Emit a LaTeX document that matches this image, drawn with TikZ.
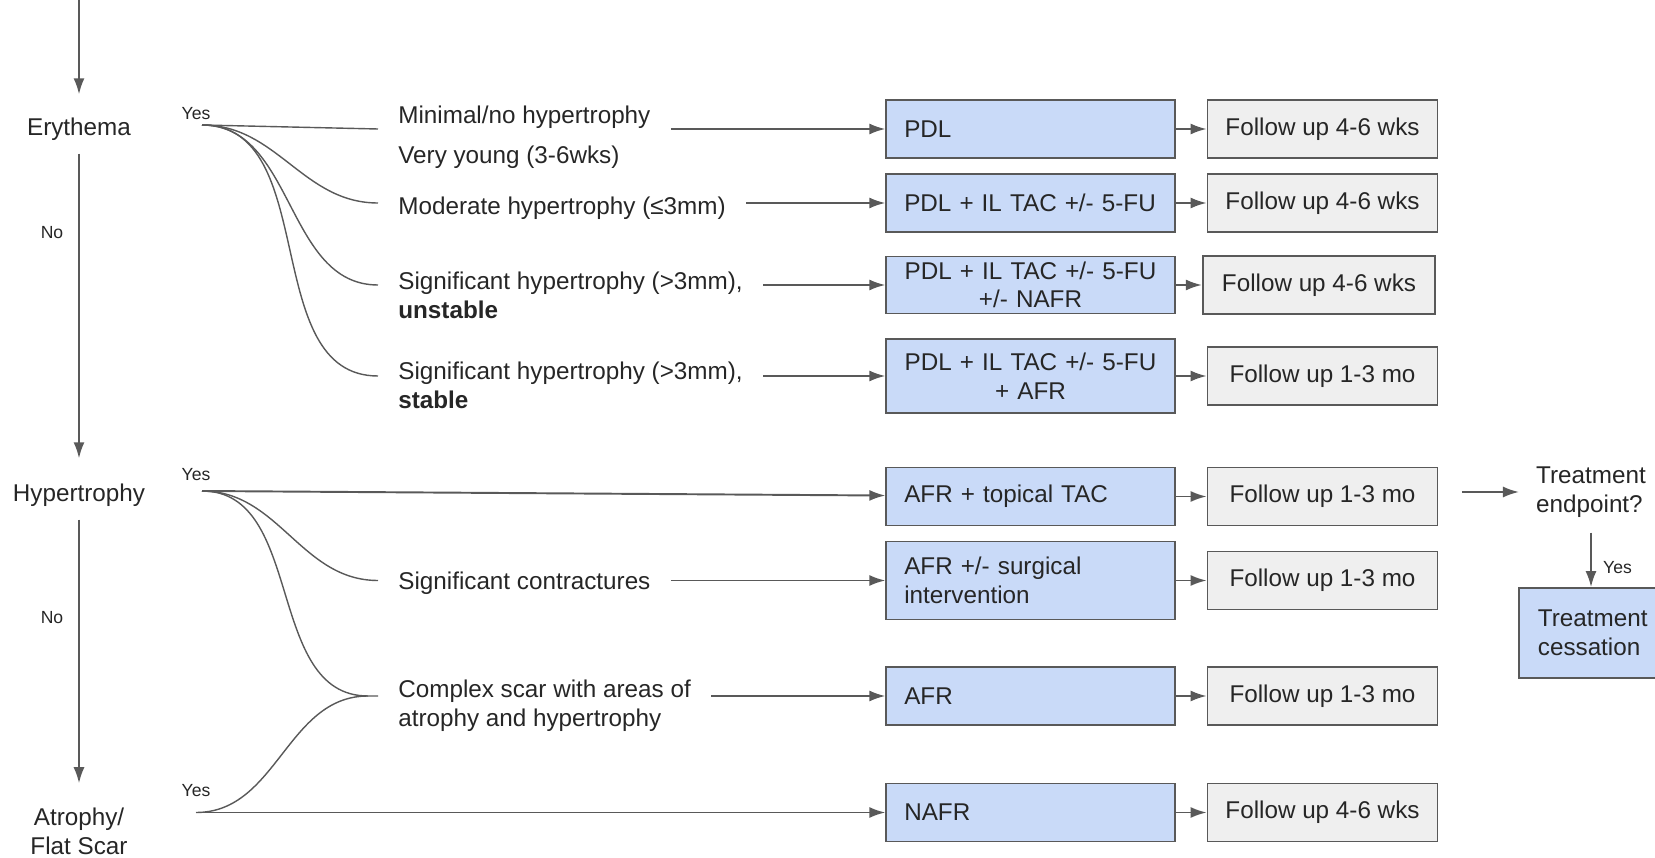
\documentclass[tikz,border=0pt]{standalone}
\usepackage{fontspec}
\setmainfont{Liberation Sans}
\usepackage{tikz}
\usetikzlibrary{arrows.meta}

\definecolor{linegray}{HTML}{595959}
\definecolor{textgray}{HTML}{262626}
\definecolor{boxblue}{HTML}{C9DAF8}
\definecolor{boxgray}{HTML}{EFEFEF}

\begin{document}
\begin{tikzpicture}[
    font=\fontsize{13.8pt}{16.5pt}\selectfont, text=textgray,
    arr/.style={-{Latex[length=0.32cm, width=0.22cm]}, linegray, line width=1.1pt},
    branch/.style={linegray, line width=0.8pt},
    stage/.style={inner sep=0.26cm, align=center},
    answer/.style={font=\fontsize{10pt}{12pt}\selectfont},
    option/.style={anchor=west, inner xsep=0.4cm, align=left},
    treat/.style={draw=linegray, line width=1pt, fill=boxblue, minimum width=5.77cm, minimum height=1.16cm, inner xsep=0.36cm},
    followup/.style={draw=linegray, line width=1pt, fill=boxgray, minimum width=4.6cm, minimum height=1.16cm}
  ]
  \useasboundingbox (0, 0) rectangle (33.1, 17.14);
  \clip (0, 0) rectangle (33.1, 17.14);

  % Stages
  \coordinate (top) at (1.58, 17.14);
  \node [stage] (ery) at (1.58, 14.56) {Erythema};
  \node [stage] (hyp) at (1.58, 7.24) {Hypertrophy};
  \node [stage] (atr) at (1.58, 0.52) {Atrophy/\\Flat Scar};
  \draw [arr, shorten >=0.2cm] (top) -- (ery);
  \draw [arr, shorten >=0.24cm] (ery) -- (hyp);
  \draw [arr, shorten >=0.22cm] (hyp) -- (atr);
  \node [answer] (no1) at (1.04, 12.48) {No};
  \node [answer] (no2) at (1.04, 4.78) {No};

  % Yes branches
  \node [answer] (yes1) at (3.92, 14.86) {Yes};
  \node [answer] (yes2) at (3.92, 7.64) {Yes};
  \node [answer] (yes3) at (3.92, 1.32) {Yes};
  \coordinate (ery-yes) at (4.04, 14.64);
  \coordinate (hyp-yes) at (4.04, 7.32);
  \coordinate (atr-yes) at (3.92, 0.89);

  % Findings
  \node [option] (minimal) at (7.56, 14.39) {Minimal/no hypertrophy\\[0.22cm]Very young (3-6wks)};
  \node [option] (moderate) at (7.56, 12.97) {Moderate hypertrophy (≤3mm)};
  \node [option] (unstable) at (7.56, 11.225) {Significant hypertrophy (>3mm),\\\textbf{unstable}};
  \node [option] (stable) at (7.56, 9.426) {Significant hypertrophy (>3mm),\\\textbf{stable}};
  \node [option] (contract) at (7.56, 5.47) {Significant contractures};
  \node [option] (complex) at (7.56, 3.02) {Complex scar with areas of\\atrophy and hypertrophy};

  % Treatments
  \node [treat, text width=5.05cm, align=left] (pdl) at (20.61, 14.56) {PDL};
  \node [treat, text width=5.05cm, align=left] (pdltac) at (20.61, 13.08) {PDL + IL TAC +/- 5-FU};
  \node [treat, text width=5.05cm, align=center, minimum height=1.14cm, inner ysep=0.02cm, font=\fontsize{13.8pt}{15.9pt}\selectfont] (pdlnafr) at (20.61, 11.44) {PDL + IL TAC +/- 5-FU\\+/- NAFR};
  \node [treat, text width=5.05cm, align=center, minimum height=1.48cm] (pdlafr) at (20.61, 9.62) {PDL + IL TAC +/- 5-FU\\+ AFR};
  \node [treat, text width=5.05cm, align=left] (afrtac) at (20.61, 7.21) {AFR + topical TAC};
  \node [treat, text width=5.05cm, align=left, minimum height=1.56cm] (afrsurg) at (20.61, 5.53) {AFR +/- surgical\\intervention};
  \node [treat, text width=5.05cm, align=left] (afr) at (20.61, 3.22) {AFR};
  \node [treat, text width=5.05cm, align=left] (nafr) at (20.61, 0.89) {NAFR};

  % Follow ups
  \node [followup] (fu1) at (26.45, 14.56) {Follow up 4-6 wks};
  \node [followup] (fu2) at (26.45, 13.08) {Follow up 4-6 wks};
  \node [followup, minimum width=4.65cm] (fu3) at (26.38, 11.44) {Follow up 4-6 wks};
  \node [followup] (fu4) at (26.45, 9.62) {Follow up 1-3 mo};
  \node [followup] (fu5) at (26.45, 7.21) {Follow up 1-3 mo};
  \node [followup] (fu6) at (26.45, 5.53) {Follow up 1-3 mo};
  \node [followup] (fu7) at (26.45, 3.22) {Follow up 1-3 mo};
  \node [followup] (fu8) at (26.45, 0.89) {Follow up 4-6 wks};

  % Endpoint
  \node [align=left] (endp) at (31.82, 7.30) {Treatment\\endpoint?};
  \node [treat, anchor=west, minimum width=3.2cm, minimum height=1.8cm, inner xsep=0.38cm, text width=2.5cm, align=left] (cess) at (30.36, 4.48) {Treatment\\cessation};
  \node [answer] (yes4) at (32.35, 5.78) {Yes};
  \draw [arr, shorten <=0.47cm, shorten >=0.22cm] (fu5.east |- endp) -- (endp);
  \draw [arr, shorten <=0.18cm] (endp) -- (endp |- cess.north);

  % Erythema branch
  \draw [branch] (ery-yes) -- (minimal.west |- pdl);
  \draw [branch] (ery-yes) to [out=0, in=180] (moderate.west |- pdltac);
  \draw [branch] (ery-yes) to [out=0, in=180] (unstable.west |- pdlnafr);
  \draw [branch] (ery-yes) to [out=0, in=180] (stable.west |- pdlafr);

  % Hypertrophy and atrophy branches
  \path (complex.west |- afr) ++(-0.2, 0) coordinate (cx-in);
  \draw [branch] (hyp-yes) to [out=0, in=180] (contract.west |- afrsurg);
  \draw [branch] (hyp-yes) to [out=0, in=180] (cx-in) -- (complex.west |- afr);
  \draw [branch] (atr-yes) to [out=0, in=180] (cx-in);
  \draw [arr] (hyp-yes) -- (afrtac);
  \draw [arr] (atr-yes) -- (nafr);

  % Findings to treatments
  \draw [arr] (minimal.east |- pdl) -- (pdl);
  \draw [arr] (moderate.east |- pdltac) -- (pdltac);
  \draw [arr] (unstable.east |- pdlnafr) -- (pdlnafr);
  \draw [arr] (stable.east |- pdlafr) -- (pdlafr);
  \draw [arr] (contract.east |- afrsurg) -- (afrsurg);
  \draw [arr] (complex.east |- afr) -- (afr);

  % Treatments to follow ups
  \draw [arr] (pdl) -- (fu1);
  \draw [arr] (pdltac) -- (fu2);
  \draw [arr] (pdlnafr) -- (fu3);
  \draw [arr] (pdlafr) -- (fu4);
  \draw [arr] (afrtac) -- (fu5);
  \draw [arr] (afrsurg) -- (fu6);
  \draw [arr] (afr) -- (fu7);
  \draw [arr] (nafr) -- (fu8);
\end{tikzpicture}
\end{document}
